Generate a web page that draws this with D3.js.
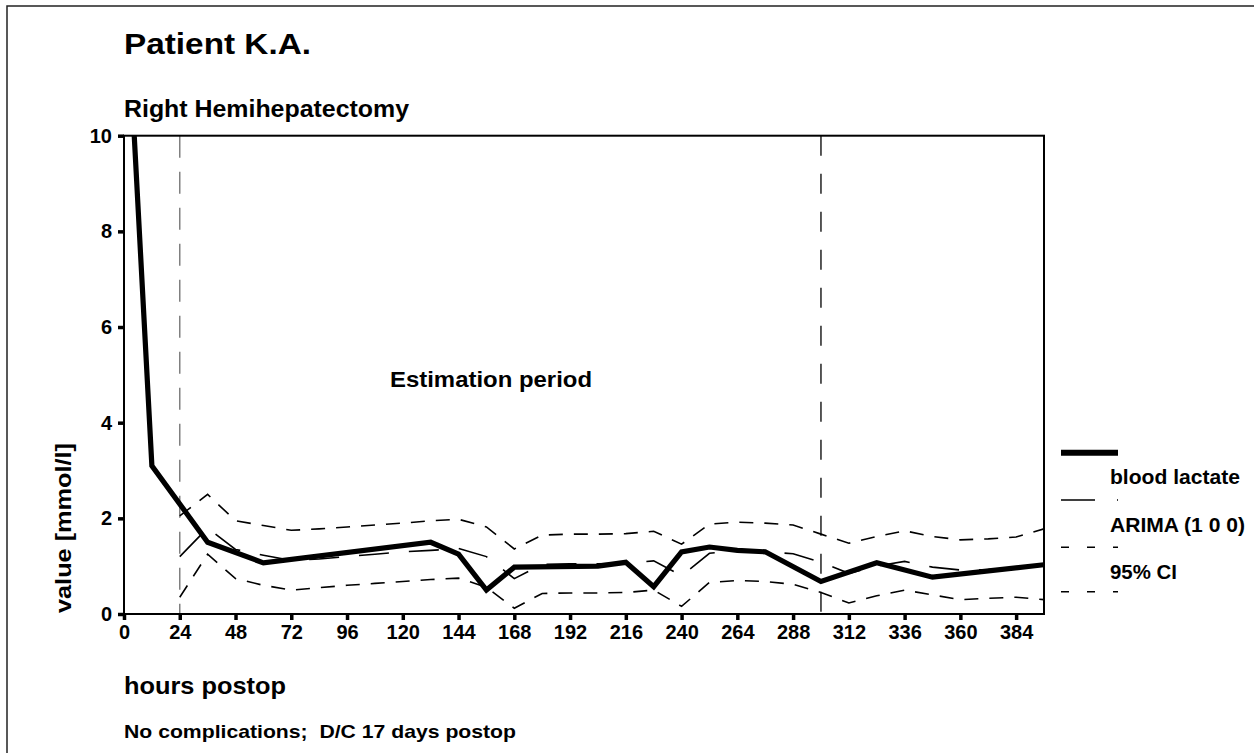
<!DOCTYPE html>
<html><head><meta charset="utf-8">
<script src="https://cdn.jsdelivr.net/npm/d3@7"></script>
<style>
body{margin:0;background:#fff}
svg{display:block}
text{font-family:"Liberation Sans",Arial,Helvetica,sans-serif;font-weight:bold;fill:#000}
</style>
</head><body><svg id="c" width="1254" height="753"></svg>
<script>
// ---- data ----
const lactateHours = [0,12,36,60,132,144,156,168,204,216,228,240,252,264,276,300,324,348,396];
const lactateValues = [14.0,3.1,1.5,1.07,1.5,1.25,0.5,0.98,1.0,1.08,0.57,1.3,1.4,1.33,1.3,0.68,1.07,0.77,1.03];

const modelHours = [24,36,48,60,72,84,96,108,120,132,144,156,168,180,192,204,216,228,240,252,264,276,288,300,312,324,336,348,360,372,384,396];
const arimaValues = [1.2,1.8,1.35,1.23,1.12,1.15,1.2,1.25,1.3,1.33,1.37,1.2,0.74,1.04,1.05,1.05,1.06,1.11,0.8,1.27,1.33,1.3,1.26,1.08,0.85,1.0,1.1,0.98,0.92,0.93,0.97,1.03];
const ciUpper = [2.05,2.5,1.95,1.85,1.75,1.78,1.82,1.86,1.9,1.95,1.98,1.82,1.36,1.65,1.67,1.67,1.68,1.73,1.46,1.88,1.92,1.9,1.86,1.67,1.48,1.62,1.74,1.62,1.55,1.57,1.61,1.78];
const ciLower = [0.35,1.25,0.74,0.6,0.5,0.55,0.6,0.64,0.68,0.72,0.75,0.56,0.12,0.43,0.44,0.44,0.45,0.5,0.16,0.66,0.7,0.68,0.62,0.45,0.23,0.38,0.5,0.4,0.3,0.33,0.35,0.3];

const xTicks = [0,24,48,72,96,120,144,168,192,216,240,264,288,312,336,360,384];
const yTicks = [0,2,4,6,8,10];
const phaseLines = [24,300];

const titleText = "Patient K.A.";
const subtitleText = "Right Hemihepatectomy";
const periodText = "Estimation period";
const xLabelText = "hours postop";
const yLabelText = "value [mmol/l]";
const noteText = "No complications;  D/C 17 days postop";
const legendLabels = ["blood lactate","ARIMA (1 0 0)","95% CI"];

// ---- layout ----
const svg = d3.select("#c");
const L = 124, R = 1044, T = 135.7, B = 614;
const x = d3.scaleLinear().domain([0,396]).range([L,R]);
const y = d3.scaleLinear().domain([0,10]).range([B,T]);

// outer frame
svg.append("rect").attr("x",7).attr("y",6).attr("width",1400).attr("height",900)
  .attr("fill","none").attr("stroke","#222").attr("stroke-width",1.5);

// clip
svg.append("defs").append("clipPath").attr("id","clip")
  .append("rect").attr("x",L).attr("y",T).attr("width",R-L).attr("height",B-T);

// vertical phase lines
svg.append("line").attr("x1",x(phaseLines[0])).attr("x2",x(phaseLines[0]))
  .attr("y1",T).attr("y2",B).attr("stroke","#808080").attr("stroke-width",1.5)
  .attr("stroke-dasharray","22,14");
svg.append("line").attr("x1",x(phaseLines[1])).attr("x2",x(phaseLines[1]))
  .attr("y1",T).attr("y2",B).attr("stroke","#000").attr("stroke-width",1.3)
  .attr("stroke-dasharray","20,18");

const g = svg.append("g").attr("clip-path","url(#clip)");
const lineGen = d3.line().x(d=>x(d[0])).y(d=>y(d[1]));

const ciU = modelHours.map((h,i)=>[h,ciUpper[i]]);
const ciL = modelHours.map((h,i)=>[h,ciLower[i]]);
const ar = modelHours.map((h,i)=>[h,arimaValues[i]]);
const lac = lactateHours.map((h,i)=>[h,lactateValues[i]]);

[ciU,ciL].forEach(d=>{
  g.append("path").attr("d",lineGen(d)).attr("fill","none").attr("stroke","#000")
   .attr("stroke-width",1.6).attr("stroke-dasharray","14,11");
});
g.append("path").attr("d",lineGen(ar)).attr("fill","none").attr("stroke","#000")
  .attr("stroke-width",1.6).attr("stroke-dasharray","30,20");
g.append("path").attr("d",lineGen(lac)).attr("fill","none").attr("stroke","#000")
  .attr("stroke-width",5.2).attr("stroke-linejoin","miter");

// plot box
svg.append("rect").attr("x",L).attr("y",T).attr("width",R-L).attr("height",B-T)
  .attr("fill","none").attr("stroke","#000").attr("stroke-width",2);

// axes
const yAxis = svg.append("g").attr("transform",`translate(${L},0)`)
  .call(d3.axisLeft(y).tickValues(yTicks).tickSize(6).tickPadding(6).tickFormat(d3.format("d")));
const xAxis = svg.append("g").attr("transform",`translate(0,${B})`)
  .call(d3.axisBottom(x).tickValues(xTicks).tickSize(6).tickPadding(5).tickFormat(d3.format("d")));
[yAxis,xAxis].forEach(a=>{
  a.select(".domain").remove();
  a.selectAll(".tick line").attr("stroke","#000").attr("stroke-width",3.5);
  a.selectAll(".tick text").style("font-size","20px").attr("fill","#000")
   .style("font-family",'"Liberation Sans",Arial,Helvetica,sans-serif').style("font-weight","bold");
});

// texts
function txt(s,xx,yy,size,len){
  const t = svg.append("text").attr("x",xx).attr("y",yy).style("font-size",size+"px")
    .style("white-space","pre").text(s);
  if(len) t.attr("textLength",len).attr("lengthAdjust","spacingAndGlyphs");
  return t;
}
txt(titleText,124,53.5,30,187);
txt(subtitleText,124,117,23,285);
txt(periodText,390,387,22,202);
txt(xLabelText,124,694,24,162);
txt(noteText,124,738,19,392);
svg.append("text").attr("transform","translate(71,613) rotate(-90)")
  .style("font-size","22px").attr("textLength",170).attr("lengthAdjust","spacingAndGlyphs")
  .text(yLabelText);

// legend
const lgX1 = 1061, lgX2 = 1118;
const legendLines = [
  {y:452.7, w:6, dash:null},
  {y:500, w:1.5, dash:"34,22"},
  {y:547.3, w:1.5, dash:"8,18"},
  {y:591.7, w:1.5, dash:"8,18"}
];
legendLines.forEach(l=>{
  const ln = svg.append("line").attr("x1",lgX1).attr("x2",lgX2).attr("y1",l.y).attr("y2",l.y)
    .attr("stroke","#000").attr("stroke-width",l.w);
  if(l.dash) ln.attr("stroke-dasharray",l.dash);
});
const legendY = [484,531.7,579];
const legendW = [130,135,67];
legendLabels.forEach((s,i)=>txt(s,1110,legendY[i],20,legendW[i]));
</script>
</body></html>
